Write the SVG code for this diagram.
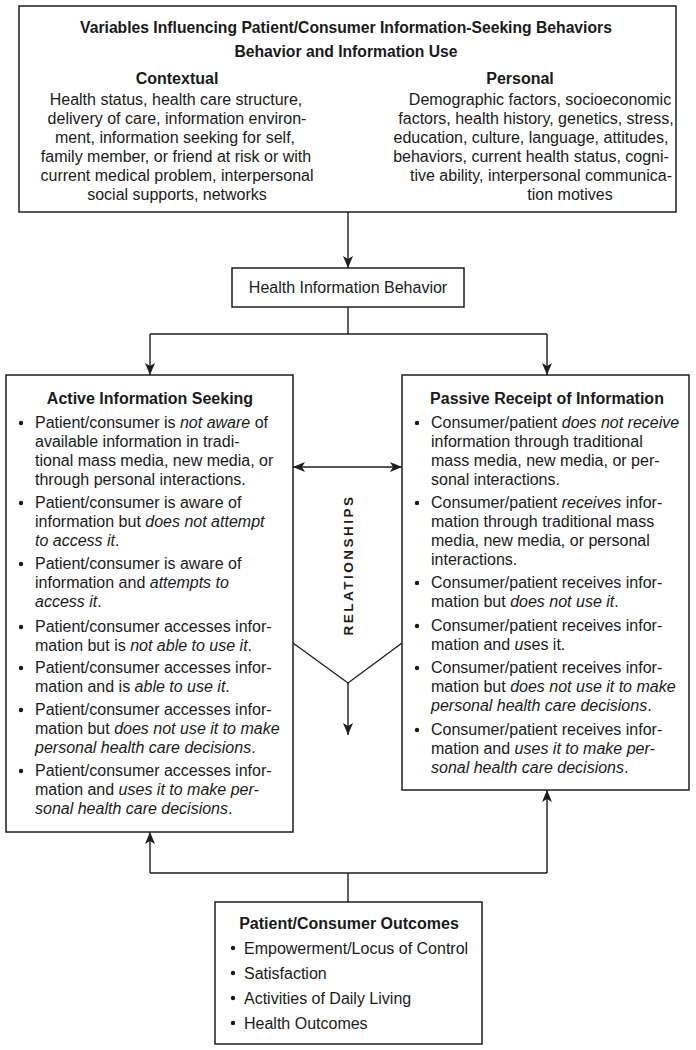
<svg xmlns="http://www.w3.org/2000/svg" width="696" height="1050" viewBox="0 0 696 1050">
<style>
.box{fill:#fff;stroke:#1e1e1e;stroke-width:1.5}
.ln{fill:none;stroke:#1e1e1e;stroke-width:1.4}
text{font-family:"Liberation Sans",Arial,sans-serif;fill:#1a1a1a;font-size:16px}
.t{font-weight:bold}
.c{text-anchor:middle}
.i{font-style:italic}
.dot{fill:#1a1a1a}
</style>
<defs>
<marker id="ah" viewBox="0 0 12 10" refX="12" refY="5" markerWidth="12" markerHeight="10" markerUnits="userSpaceOnUse" orient="auto-start-reverse">
<path d="M0,0 L12,5 L0,10 L3,5 z" fill="#1e1e1e"/>
</marker>
</defs>
<rect width="696" height="1050" fill="#fff"/>

<g id="connectors">
<path class="ln" d="M348,212 V268" marker-end="url(#ah)"/>
<path class="ln" d="M348,307 V334 M150,334 H547"/>
<path class="ln" d="M150,334 V375" marker-end="url(#ah)"/>
<path class="ln" d="M547,334 V375" marker-end="url(#ah)"/>
<path class="ln" d="M293,467 H402" marker-start="url(#ah)" marker-end="url(#ah)"/>
<path class="ln" d="M293,643 L348,683 L402,643"/>
<path class="ln" d="M348,683 V735" marker-end="url(#ah)"/>
<path class="ln" d="M348,902 V873 M150,873 H547"/>
<path class="ln" d="M150,873 V832" marker-end="url(#ah)"/>
<path class="ln" d="M547,873 V790" marker-end="url(#ah)"/>
<text class="t" font-size="13.5" letter-spacing="2.5" transform="translate(353,565) rotate(-90)" text-anchor="middle" style="font-size:13.5px">RELATIONSHIPS</text>
</g>

<g id="variables">
<rect class="box" x="19" y="6" width="657" height="206"/>
<text class="t c" x="346" y="33" style="font-size:15.7px">Variables Influencing Patient/Consumer Information-Seeking Behaviors</text>
<text class="t c" x="346" y="57" style="font-size:15.7px">Behavior and Information Use</text>
<text class="t c" x="177" y="84">Contextual</text>
<text class="c" x="176" y="105">Health status, health care structure,</text>
<text class="c" x="177" y="124">delivery of care, information environ-</text>
<text class="c" x="175" y="143">ment, information seeking for self,</text>
<text class="c" x="176" y="162">family member, or friend at risk or with</text>
<text class="c" x="177" y="181">current medical problem, interpersonal</text>
<text class="c" x="177" y="200">social supports, networks</text>
<text class="t c" x="520" y="84">Personal</text>
<text class="c" x="540" y="105">Demographic factors, socioeconomic</text>
<text class="c" x="536" y="124">factors, health history, genetics, stress,</text>
<text class="c" x="531" y="143">education, culture, language, attitudes,</text>
<text class="c" x="531" y="162">behaviors, current health status, cogni-</text>
<text class="c" x="541" y="181">tive ability, interpersonal communica-</text>
<text class="c" x="570" y="200">tion motives</text>
</g>

<g id="health-info-behavior">
<rect class="box" x="232" y="268" width="232" height="39"/>
<text class="c" x="348" y="293">Health Information Behavior</text>
</g>

<g id="active">
<rect class="box" x="6" y="375" width="287" height="457"/>
<text class="t c" x="150" y="404">Active Information Seeking</text>
<circle class="dot" cx="21" cy="423" r="2.2"/>
<circle class="dot" cx="21" cy="503" r="2.2"/>
<circle class="dot" cx="21" cy="564" r="2.2"/>
<circle class="dot" cx="21" cy="627" r="2.2"/>
<circle class="dot" cx="21" cy="668" r="2.2"/>
<circle class="dot" cx="21" cy="710" r="2.2"/>
<circle class="dot" cx="21" cy="771" r="2.2"/>
<text x="35" y="428">Patient/consumer is <tspan class="i">not aware</tspan> of</text>
<text x="35" y="447">available information in tradi-</text>
<text x="35" y="466">tional mass media, new media, or</text>
<text x="35" y="485">through personal interactions.</text>
<text x="35" y="508">Patient/consumer is aware of</text>
<text x="35" y="527">information but <tspan class="i">does not attempt</tspan></text>
<text x="35" y="546"><tspan class="i">to access it</tspan>.</text>
<text x="35" y="569">Patient/consumer is aware of</text>
<text x="35" y="588">information and <tspan class="i">attempts to</tspan></text>
<text x="35" y="607"><tspan class="i">access it</tspan>.</text>
<text x="35" y="632">Patient/consumer accesses infor-</text>
<text x="35" y="651">mation but is <tspan class="i">not able to use it</tspan>.</text>
<text x="35" y="673">Patient/consumer accesses infor-</text>
<text x="35" y="692">mation and is <tspan class="i">able to use it</tspan>.</text>
<text x="35" y="715">Patient/consumer accesses infor-</text>
<text x="35" y="734">mation but <tspan class="i">does not use it to make</tspan></text>
<text x="35" y="753"><tspan class="i">personal health care decisions</tspan>.</text>
<text x="35" y="776">Patient/consumer accesses infor-</text>
<text x="35" y="795">mation and <tspan class="i">uses it to make per-</tspan></text>
<text x="35" y="814"><tspan class="i">sonal health care decisions</tspan>.</text>
</g>

<g id="passive">
<rect class="box" x="402" y="375" width="287" height="415"/>
<text class="t c" x="547" y="404">Passive Receipt of Information</text>
<circle class="dot" cx="417" cy="423" r="2.2"/>
<circle class="dot" cx="417" cy="503" r="2.2"/>
<circle class="dot" cx="417" cy="583" r="2.2"/>
<circle class="dot" cx="417" cy="626" r="2.2"/>
<circle class="dot" cx="417" cy="668" r="2.2"/>
<circle class="dot" cx="417" cy="730" r="2.2"/>
<text x="431" y="428">Consumer/patient <tspan class="i">does not receive</tspan></text>
<text x="431" y="447">information through traditional</text>
<text x="431" y="466">mass media, new media, or per-</text>
<text x="431" y="485">sonal interactions.</text>
<text x="431" y="508">Consumer/patient <tspan class="i">receives</tspan> infor-</text>
<text x="431" y="527">mation through traditional mass</text>
<text x="431" y="546">media, new media, or personal</text>
<text x="431" y="565">interactions.</text>
<text x="431" y="588">Consumer/patient receives infor-</text>
<text x="431" y="607">mation but <tspan class="i">does not use it</tspan>.</text>
<text x="431" y="631">Consumer/patient receives infor-</text>
<text x="431" y="650">mation and <tspan class="i">u</tspan>ses it.</text>
<text x="431" y="673">Consumer/patient receives infor-</text>
<text x="431" y="692">mation but <tspan class="i">does not use it to make</tspan></text>
<text x="431" y="711"><tspan class="i">personal health care decisions</tspan>.</text>
<text x="431" y="735">Consumer/patient receives infor-</text>
<text x="431" y="754">mation and <tspan class="i">uses it to make per-</tspan></text>
<text x="431" y="773"><tspan class="i">sonal health care decisions</tspan>.</text>
</g>

<g id="outcomes">
<rect class="box" x="215" y="902" width="267" height="142"/>
<text class="t c" x="349" y="929">Patient/Consumer Outcomes</text>
<circle class="dot" cx="233" cy="948" r="2.2"/>
<circle class="dot" cx="233" cy="973" r="2.2"/>
<circle class="dot" cx="233" cy="998" r="2.2"/>
<circle class="dot" cx="233" cy="1023" r="2.2"/>
<text x="244" y="954">Empowerment/Locus of Control</text>
<text x="244" y="979">Satisfaction</text>
<text x="244" y="1004">Activities of Daily Living</text>
<text x="244" y="1029">Health Outcomes</text>
</g>
</svg>
